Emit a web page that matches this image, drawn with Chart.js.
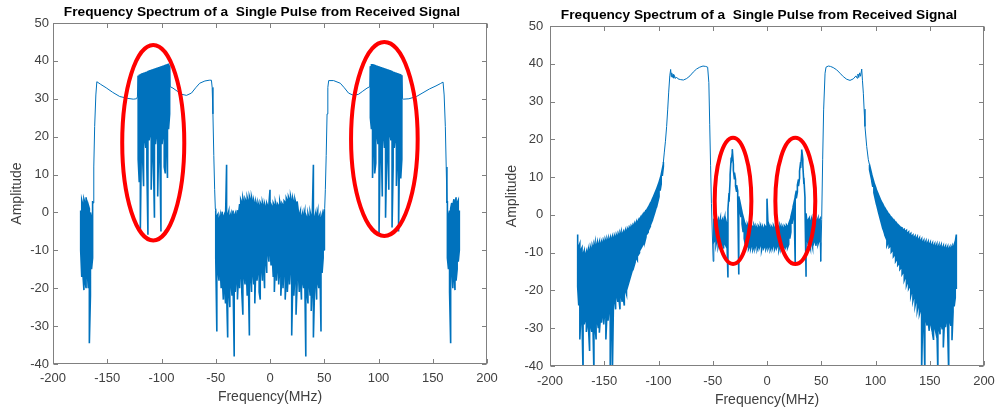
<!DOCTYPE html>
<html><head><meta charset="utf-8">
<script src="https://cdn.jsdelivr.net/npm/chart.js@4.4.1/dist/chart.umd.min.js"></script>
<style>
html,body{margin:0;padding:0;background:#fff;}
#wrap{position:relative;width:998px;height:413px;overflow:hidden;background:#fff;}
canvas{position:absolute;top:0;}
</style></head><body>
<div id="wrap">
<canvas id="c1" width="500" height="413" style="left:0px"></canvas>
<canvas id="c2" width="498" height="413" style="left:500px"></canvas>
</div>
<script>
// ---------- shared text / ticks ----------
const titleText = 'Frequency Spectrum of a  Single Pulse from Received Signal';
const xLabel = 'Frequency(MHz)';
const yLabel = 'Amplitude';
const xTicks = [-200, -150, -100, -50, 0, 50, 100, 150, 200];
const yTicks = [-40, -30, -20, -10, 0, 10, 20, 30, 40, 50];

// ---------- LEFT PLOT ----------
// noisy bands: [freq, upper, lower]
const L_edgeLeft = [
 [-174.5,0.5,-10],[-173.5,3.2,-17],[-172.5,2,-16],[-171.5,3.5,-20.5],[-170.5,2.5,-18],[-169.5,4,-20],
 [-168.5,1.5,-15],[-167.5,2,-20],[-166.5,1,-34.5],[-165.5,0,-22],[-164.5,-1.5,-15],[-163.5,3,-12]
];
// smooth parts: [freq, amplitude]
const L_curveLeft = [
 [-163.1,2.5],[-162.4,12],[-161.6,22.7],[-160.5,31],[-159.6,34.5],[-156,33.8],[-151,32.9],[-145,31.7],
 [-138.5,30.6],[-131,30.1],[-126,29.9],[-123,30],[-122.2,30.5]
];
const L_combLeft = [
 [-121.5,36.1,14],[-120.5,36.2,8],[-119.5,36.3,-4.6],[-118.5,36.5,19],[-117.5,36.6,15],[-116.5,36.7,6.9],
 [-115.5,36.8,20],[-114.5,36.9,17],[-113.5,37.0,12],[-112.5,37.2,-5.9],[-111.5,37.3,19],[-110.5,37.4,21],
 [-109.5,37.5,6],[-108.5,37.6,19],[-107.5,37.7,14],[-106.5,37.8,-1.4],[-105.5,37.9,18],[-104.5,38.0,21],
 [-103.5,38.1,4.2],[-102.5,38.2,19],[-101.5,38.3,15],[-100.5,38.4,-5],[-99.5,38.5,18],[-98.5,38.6,21],
 [-97.5,38.7,12],[-96.5,38.8,10.3],[-95.5,38.9,20],[-94.5,39.0,9.1],[-93.5,39.1,22],[-92.5,38.8,26]
];
const L_curveMidLeft = [
 [-92,33.2],[-89.4,32.8],[-85.5,32],[-81.7,31.2],[-77,30.9],[-72.4,31.5],[-68.5,32.9],[-64.8,34.1],
 [-60,34.7],[-56,34.9],[-54,34.9],[-53.3,33],[-52.6,26],[-51.8,15],[-51,6],[-50.4,1]
];
const L_center = [
 [-50,0.5,-12],[-49,-1,-31.4],[-48,-0.5,-15],[-47,-2,-18],[-46,-0.8,-14],[-45,-1.5,-20],[-44,0.2,-17],
 [-43,-1.2,-23],[-42,-0.5,-19],[-41,-1.8,-24],[-40,12.6,-21],[-39,-0.8,-33],[-38,0.3,-20],[-37,-1.2,-25],
 [-36,-0.3,-18],[-35,-1.6,-22],[-34,0.5,-19],[-33,-0.9,-38],[-32,-0.2,-21],[-31,-1.4,-17],[-30,0.6,-23],
 [-29,-0.4,-16],[-28,2.2,-20],[-27,3.4,-15],[-26,2.6,-21],[-25,3.8,-27],[-24,2.4,-16],[-23,3.6,-19],
 [-22,2.9,-14],[-21,3.9,-22],[-20,2.7,-17],[-19,4.2,-32.5],[-18,3.1,-16],[-17,4,-21],[-16,2.6,-15],
 [-15,3.2,-19],[-14,2.1,-24],[-13,2.8,-14],[-12,1.7,-18],[-11,2.5,-15],[-10,1.4,-21],[-9,2.6,-23],
 [-8,1.9,-14],[-7,2.7,-18],[-6,1.5,-13],[-5,2.3,-20],[-4,1.2,-12],[-3,2.4,-16],[-2,1.6,-10],[-1,2.2,-13],
 [0,6,-9],[1,2.1,-14],[2,1.4,-11],[3,2.5,-17],[4,1.8,-21],[5,2.6,-13],[6,1.3,-18],[7,2.2,-14],[8,1.7,-19],
 [9,2.9,-15],[10,1.5,-22],[11,2.4,-16],[12,1.9,-20],[13,3.0,-14],[14,2.6,-23],[15,3.8,-17],[16,3.1,-21],
 [17,4.1,-15],[18,3.3,-19],[19,4.2,-14],[20,2.8,-32.5],[21,3.7,-18],[22,2.5,-22],[23,3.4,-16],[24,2.2,-27],
 [25,2.9,-19],[26,0.6,-15],[27,-0.6,-21],[28,0.4,-17],[29,-1.3,-23],[30,-0.2,-18],[31,-1.1,-20],
 [32,0.3,-16],[33,-0.7,-38],[34,-1.5,-21],[35,-0.4,-24],[36,-1.7,-18],[37,0.1,-22],[38,-1.2,-26],
 [39,-0.5,-19],[40,12.6,-33],[41,-1.6,-21],[42,-0.3,-17],[43,-1.0,-23],[44,0.4,-18],[45,-1.4,-20],
 [46,-0.6,-14],[47,-1.9,-31.4],[48,-0.7,-16],[49,-1.2,-12],[50,0.8,-10]
];
const L_curveMidRight = [
 [50.4,1],[51,6],[51.8,15],[52.6,26],[53.3,33],[54.1,34.8],[58.6,34.8],[64.8,34.1],[68.5,32.9],
 [72.4,31.5],[77,30.9],[81.7,31.2],[85.5,32],[89.4,32.8],[92,33.2]
];
const L_combRight = [
 [92.5,38.6,25],[93.5,39.0,22],[94.5,39.0,9.1],[95.5,38.9,20],[96.5,38.8,10.3],[97.5,38.7,13],
 [98.5,38.6,21],[99.5,38.5,18],[100.5,38.4,-5.4],[101.5,38.3,15],[102.5,38.2,19],[103.5,38.1,4.2],
 [104.5,38.0,21],[105.5,37.9,17],[106.5,37.8,-1.4],[107.5,37.7,14],[108.5,37.6,19],[109.5,37.5,6],
 [110.5,37.4,21],[111.5,37.3,19],[112.5,37.2,-4],[113.5,37.0,12],[114.5,36.9,17],[115.5,36.8,20],
 [116.5,36.7,7],[117.5,36.6,15],[118.5,36.5,-5],[119.5,36.4,19],[120.5,36.3,9],[121.5,36.2,14]
];
const L_curveRight = [
 [122.2,30],[123,29.9],[128,30],[135,30.6],[141,31.6],[147,32.6],[153,33.4],[157,34],[159.5,34.4],
 [160.5,31],[161.6,22.7],[162.4,12],[163.1,2.5]
];
const L_edgeRight = [
 [163.5,3,-12],[164.5,-1,-15],[165.5,0.5,-21],[166.5,1,-34.5],[167.5,2.5,-14],[168.5,1.8,-20],
 [169.5,3.5,-16],[170.5,2.2,-20.5],[171.5,4,-18],[172.5,2.5,-15],[173.5,3.2,-13],[174.5,0.5,-10]
];
// highlighted regions: [centre freq, centre amp, half-width MHz, half-height amp]
const L_marks = [[-107.6,18.4,28.6,25.8],[105.4,19.4,30.7,25.6]];

// ---------- RIGHT PLOT ----------
const R_bandLeft = [
 [-174.5,-5.2,-19],[-173.5,-8.4,-24],[-172.5,-7.6,-33],[-171.5,-9.3,-26],[-170.5,-8.7,-28],[-169.5,-10.4,-42],
 [-168.5,-9.5,-29],[-167.5,-10.6,-27.5],[-166.5,-9.7,-31],[-165.5,-10.2,-28.5],[-164.5,-9.0,-30],[-163.5,-9.7,-36],
 [-162.5,-8.5,-29],[-161.5,-9.3,-31],[-160.5,-8.1,-28],[-159.5,-8.8,-42],[-158.5,-7.4,-29.5],[-157.5,-8.3,-33],
 [-156.5,-7.3,-28],[-155.5,-8.0,-30],[-154.5,-7.1,-31.2],[-153.5,-7.8,-27],[-152.5,-7.0,-28.5],[-151.5,-7.6,-26],
 [-150.5,-6.7,-29],[-149.5,-7.3,-25.5],[-148.5,-6.4,-33],[-147.5,-7.1,-26],[-146.5,-6.2,-28],[-145.5,-6.8,-24.5],
 [-144.5,-6.0,-42],[-143.5,-6.5,-25],[-142.5,-5.7,-42],[-141.5,-6.3,-23],[-140.5,-5.5,-22],[-139.5,-6.0,-25],
 [-138.5,-5.2,-21],[-137.5,-5.8,-23],[-136.5,-4.9,-22],[-135.5,-5.5,-25],[-134.5,-4.5,-21],[-133.5,-5.1,-23],
 [-132.5,-4.5,-22],[-131.5,-4.8,-24],[-130.5,-4.0,-20],[-129.5,-4.4,-21],[-128.5,-3.7,-19],[-127.5,-4.0,-18],
 [-126.5,-3.3,-17],[-125.5,-3.5,-16],[-124.5,-2.9,-15],[-123.5,-3.1,-14],[-122.5,-2.4,-13.5],[-121.5,-2.6,-12.5],
 [-120.5,-1.9,-11.5],[-119.5,-2.0,-12],[-118.5,-1.4,-10.5],[-117.5,-1.3,-10],[-116.5,-0.7,-9],[-115.5,-0.6,-8.5],
 [-114.5,0.0,-8],[-113.5,0.2,-7.5],[-112.5,0.7,-7],[-111.5,1.0,-5.8],[-110.5,1.5,-5],[-109.5,1.9,-4.6],
 [-108.5,2.5,-3.6],[-107.5,2.9,-3],[-106.5,3.6,-2],[-105.5,4.2,-1.3],[-104.5,4.9,-0.3],[-103.5,5.6,0.6],
 [-102.5,6.3,1.6],[-101.5,7.0,2.6],[-100.5,7.8,3.6],[-99.5,8.6,4.8],[-98.5,9.6,6.4],[-97.5,10.7,8.2],
 [-96.5,12.1,10.3],[-95.5,14.0,12.8]
];
const R_curveLeft = [
 [-94.7,16.4],[-93.6,19.5],[-92.5,23.4],[-91.5,28],[-90.6,32.5],[-89.6,36.8],[-88.8,38.5],[-88.3,36.6],
 [-87.8,37.6],[-87.2,36.4],[-86.6,37.2],[-86,36.2],[-85.3,36.9],[-84.5,36.1],[-83.5,36.5],[-82,36],
 [-79.5,35.8],[-77,35.7],[-74,36.1],[-71,36.8],[-68,37.8],[-65,38.6],[-62,39.1],[-59,39.4],[-56.5,39.3],
 [-54.7,39.1],[-53.6,35],[-52.8,24],[-52,13],[-51.2,3],[-50.5,-4],[-49.6,-12.3]
];
const R_center = [
 [-49,-1.0,-7.2],[-48,-1.6,-6.8],[-47,-0.8,-7.9],[-46,-1.9,-6.5],[-45,-1.2,-8.3],[-44,-2.1,-7.0],
 [-43,-0.9,-7.7],[-42,-1.7,-8.6],[-41,-1.1,-7.2],[-40,-2.0,-8.9],[-39,-0.7,-7.5],[-38,-1.4,-8.1],
 [-37,-2.6,-6],[-36,1.5,-16.6],[-35,5.8,3.5],[-34,10.6,9.2],[-33,15.2,13.8],[-32,17.4,16.4],[-31,13.3,11.8],
 [-30,11.2,9.4],[-29,9.4,7.6],[-28,7.9,6.1],[-27,6.4,4.4],[-26,4.9,-15.8],[-25,3.4,1.3],[-24,2.1,-0.6],
 [-23,0.7,-2.4],[-22,-0.5,-4.6],[-21,-1.6,-6.3],[-20,-2.4,-7.8],[-19,-3.1,-8.6],[-18,-2.6,-8.1],
 [-17,-3.4,-9.0],[-16,-2.8,-8.3],[-15,-3.6,-8.9],[-14,-2.9,-7.9],[-13,-3.3,-9.2],[-12,-2.7,-8.4],
 [-11,-3.5,-8.8],[-10,-3.0,-7.7],[-9,-3.7,-9.1],[-8,-2.9,-8.2],[-7,-3.4,-8.7],[-6,-2.8,-7.9],[-5,-3.6,-9.3],
 [-4,-3.1,-8.0],[-3,-3.8,-8.8],[-2,-2.9,-8.3],[-1,-3.3,-9.0],[0,4.3,-8.2],[1,-3.2,-8.9],[2,-2.8,-8.1],
 [3,-3.7,-9.2],[4,-3.0,-8.4],[5,-3.5,-8.8],[6,-2.9,-7.8],[7,-3.6,-9.1],[8,-3.1,-8.3],[9,-3.8,-8.7],
 [10,-2.9,-8.0],[11,-3.4,-9.3],[12,-2.8,-8.2],[13,-3.6,-8.9],[14,-3.0,-7.9],[15,-3.7,-9.0],[16,-2.9,-8.4],
 [17,-3.3,-8.7],[18,-2.7,-8.1],[19,-3.1,-8.6],[20,-2.4,-7.8],[21,-1.6,-6.3],[22,-0.5,-4.6],[23,0.7,-2.4],
 [24,2.1,-0.6],[25,3.4,1.3],[26,4.9,-12.7],[27,6.4,4.4],[28,7.9,6.1],[29,9.4,7.6],[30,11.6,9.8],
 [31,14.0,12.4],[32,17.3,16.3],[33,14.8,13.2],[34,9.8,8.2],[35,4.6,2.6],[36,0.4,-16.4],[37,-2.4,-6.2],
 [38,-1.3,-8.0],[39,-0.8,-7.4],[40,-1.9,-8.7],[41,-1.0,-7.1],[42,-1.8,-8.5],[43,-0.7,-7.6],[44,-2.0,-6.9],
 [45,-1.1,-8.2],[46,-1.7,-6.6],[47,-0.9,-7.8],[48,-1.5,-6.9],[49,-1.0,-7.3]
];
const R_curveRight = [
 [49.5,-12.3],[50.4,-1.2],[51.3,14.6],[52.2,27.8],[53.5,37.5],[54.4,39.1],[56.5,39.4],[58.5,39.3],
 [61,39],[64.2,38.4],[67.3,37.5],[70.3,36.6],[73.5,35.9],[76.5,35.6],[79.5,36],[82,36.8],[83,36.2],
 [83.8,37.3],[84.6,36.4],[85.4,37.6],[86.2,36.7],[87.3,38.6],[88,35.5],[88.8,32.2],[89.5,28],
 [90.3,23.4],[91.9,18.1],[93.4,14.6]
];
const R_bandRight = [
 [94.5,13.2,12.0],[95.5,12.0,10.6],[96.5,10.8,9.0],[97.5,9.7,7.4],[98.5,8.7,5.9],[99.5,7.8,4.6],
 [100.5,7.0,3.4],[101.5,6.2,2.2],[102.5,5.5,1.0],[103.5,4.8,-0.1],[104.5,4.1,-1.2],[105.5,3.5,-2.3],
 [106.5,2.9,-3.3],[107.5,2.4,-4.2],[108.5,1.8,-5.3],[109.5,1.4,-6.0],[110.5,0.9,-8.1],[111.5,0.5,-7.4],
 [112.5,0.0,-8.6],[113.5,-0.3,-8.3],[114.5,-0.8,-9.8],[115.5,-1.0,-9.4],[116.5,-1.5,-11.0],[117.5,-1.6,-10.6],
 [118.5,-2.1,-12.3],[119.5,-2.2,-11.8],[120.5,-2.6,-13.3],[121.5,-2.8,-12.9],[122.5,-3.1,-14.4],
 [123.5,-3.3,-14.0],[124.5,-3.4,-15.7],[125.5,-3.9,-15.2],[126.5,-3.8,-17.3],[127.5,-4.3,-16.5],
 [128.5,-4.1,-18.6],[129.5,-4.8,-17.7],[130.5,-4.5,-19.5],[131.5,-5.2,-18.9],[132.5,-4.9,-21.4],
 [133.5,-5.6,-20.2],[134.5,-5.3,-22.7],[135.5,-6.0,-21.5],[136.5,-5.6,-24.0],[137.5,-6.3,-22.6],
 [138.5,-5.8,-25.3],[139.5,-6.6,-23.9],[140.5,-6.1,-26.2],[141.5,-6.9,-25.1],[142.5,-6.4,-42],
 [143.5,-7.2,-26.5],[144.5,-6.7,-28.2],[145.5,-7.5,-42],[146.5,-6.9,-27.4],[147.5,-7.7,-29.3],
 [148.5,-7.1,-27.9],[149.5,-7.9,-30.7],[150.5,-7.3,-28.5],[151.5,-8.1,-29.8],[152.5,-7.5,-31.3],
 [153.5,-8.3,-33.1],[154.5,-7.7,-29.5],[155.5,-8.5,-30.9],[156.5,-7.8,-29.0],[157.5,-8.6,-42],
 [158.5,-7.9,-29.7],[159.5,-8.7,-31.6],[160.5,-8.0,-28.8],[161.5,-8.8,-30.3],[162.5,-8.2,-35.1],
 [163.5,-8.9,-28.4],[164.5,-8.3,-29.7],[165.5,-9.0,-27.6],[166.5,-8.4,-30.2],[167.5,-9.1,-42],
 [168.5,-8.5,-27.9],[169.5,-9.0,-29.4],[170.5,-8.3,-33.2],[171.5,-8.8,-25.7],[172.5,-7.9,-24.2],
 [173.5,-7.2,-21.9],[174.5,-5.2,-19.6]
];
const R_marks = [[-31.3,3.7,16.9,16.7],[26.1,3.7,18.4,16.7]];

// ---------- build & draw ----------
const LINE_COLOR = '#0072BD';
const AXIS_COLOR = '#808080';
const TEXT_COLOR = '#404040';
const FONT = '"Liberation Sans", Arial, Helvetica, sans-serif';

function band(rows){ return {band:true, rows}; }
function curve(rows){ return {band:false, rows}; }
function buildPoints(segs){
  const pts = [];
  segs.forEach(s => {
    if (s.band) s.rows.forEach((r, i) => {
      const a = {x:r[0], y:r[1], band:true}, b = {x:r[0], y:r[2], band:true};
      if (i % 2 === 0) { pts.push(a); pts.push(b); } else { pts.push(b); pts.push(a); }
    });
    else s.rows.forEach(r => pts.push({x:r[0], y:r[1], band:false}));
  });
  return pts;
}

const framePlugin = {
  id: 'frame',
  afterDraw(chart, args, o) {
    const {ctx, chartArea: a, scales: {x, y}} = chart;
    ctx.save();
    // box
    ctx.strokeStyle = AXIS_COLOR; ctx.lineWidth = 1;
    const L = Math.round(a.left) + 0.5, R = Math.round(a.right) - 0.5;
    const T = Math.round(a.top) + 0.5, B = Math.round(a.bottom) - 0.5;
    ctx.strokeRect(L, T, R - L, B - T);
    // inward ticks on all sides
    const tl = 4.5;
    ctx.beginPath();
    x.ticks.forEach(t => {
      const px = Math.round(x.getPixelForValue(t.value)) + 0.5;
      ctx.moveTo(px, B); ctx.lineTo(px, B - tl);
      ctx.moveTo(px, T); ctx.lineTo(px, T + tl);
    });
    y.ticks.forEach(t => {
      const py = Math.round(y.getPixelForValue(t.value)) + 0.5;
      ctx.moveTo(L, py); ctx.lineTo(L + tl, py);
      ctx.moveTo(R, py); ctx.lineTo(R - tl, py);
    });
    ctx.stroke();
    // red highlight ellipses
    ctx.strokeStyle = '#FF0000'; ctx.lineWidth = 4;
    o.marks.forEach(m => {
      const cx = x.getPixelForValue(m[0]), cy = y.getPixelForValue(m[1]);
      const rx = Math.abs(x.getPixelForValue(m[0] + m[2]) - cx);
      const ry = Math.abs(y.getPixelForValue(m[1] + m[3]) - cy);
      ctx.beginPath(); ctx.ellipse(cx, cy, rx, ry, 0, 0, Math.PI * 2); ctx.stroke();
    });
    // title
    ctx.fillStyle = '#000';
    ctx.font = 'bold 13.7px ' + FONT;
    ctx.textAlign = 'center'; ctx.textBaseline = 'middle';
    ctx.fillText(titleText, (a.left + a.right) / 2 + o.titleDx, a.top - o.titleDy);
    ctx.restore();
  }
};

function makeChart(id, segs, marks, g) {
  const pts = buildPoints(segs);
  return new Chart(document.getElementById(id), {
    type: 'scatter',
    data: { datasets: [{
      data: pts, showLine: true, borderColor: LINE_COLOR, backgroundColor: LINE_COLOR,
      borderWidth: 1, pointRadius: 0, pointHoverRadius: 0, tension: 0, fill: false,
      segment: { borderWidth: c => (pts[c.p0DataIndex].band && pts[c.p1DataIndex].band) ? 1.6 : 1 }
    }]},
    options: {
      responsive: false, animation: false, devicePixelRatio: 1, events: [],
      layout: { padding: { top: g.top, right: g.right, left: 0, bottom: 0 } },
      plugins: { legend: {display: false}, tooltip: {enabled: false}, title: {display: false},
                 frame: { marks, titleDx: g.titleDx, titleDy: g.titleDy } },
      scales: {
        x: { type: 'linear', min: xTicks[0], max: xTicks[xTicks.length - 1],
             afterBuildTicks: s => { s.ticks = xTicks.map(v => ({value: v})); },
             ticks: { color: TEXT_COLOR, font: {family: FONT, size: 13}, padding: g.xPad, maxRotation: 0, autoSkip: false },
             grid: { display: false, drawTicks: false }, border: { display: false },
             title: { display: true, text: xLabel, color: TEXT_COLOR, font: {family: FONT, size: 14},
                      padding: {top: 0, bottom: g.xtPad} },
             afterFit: s => { s.height = g.xH; s.paddingLeft = 0; s.paddingRight = 0; } },
        y: { type: 'linear', min: yTicks[0], max: yTicks[yTicks.length - 1],
             afterBuildTicks: s => { s.ticks = yTicks.map(v => ({value: v})); },
             ticks: { color: TEXT_COLOR, font: {family: FONT, size: 13}, padding: g.yPad },
             grid: { display: false, drawTicks: false }, border: { display: false },
             title: { display: true, text: yLabel, color: TEXT_COLOR, font: {family: FONT, size: 14},
                      padding: {top: g.ytPad, bottom: 0} },
             afterFit: s => { s.width = g.yW; s.paddingTop = 0; s.paddingBottom = 0; } }
      }
    },
    plugins: [framePlugin]
  });
}

makeChart('c1', [
  band(L_edgeLeft), curve(L_curveLeft), band(L_combLeft), curve(L_curveMidLeft), band(L_center),
  curve(L_curveMidRight), band(L_combRight), curve(L_curveRight), band(L_edgeRight)
], L_marks, {top: 23, right: 13, yW: 53, xH: 49, xPad: 7, yPad: 4, xtPad: 7.7, ytPad: 9.2, titleDx: -8, titleDy: 10.5});

makeChart('c2', [
  band(R_bandLeft), curve(R_curveLeft), band(R_center), curve(R_curveRight), band(R_bandRight)
], R_marks, {top: 26, right: 14, yW: 50, xH: 47, xPad: 7.5, yPad: 6.7, xtPad: 4.4, ytPad: 4.2, titleDx: -8, titleDy: 10.5});
</script>
</body></html>
